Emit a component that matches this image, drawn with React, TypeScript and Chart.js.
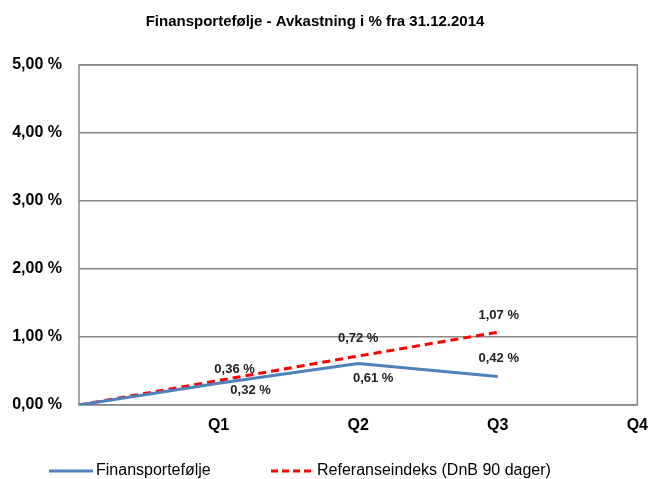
import React, { useEffect, useRef } from "react";
import { Chart, registerables } from "chart.js";

Chart.register(...registerables);

const chartTitle = "Finansportefølje - Avkastning i % fra 31.12.2014";
const categories = ["", "Q1", "Q2", "Q3", "Q4"];
const seriesNames = ["Finansportefølje", "Referanseindeks (DnB 90 dager)"];
const finansValues: (number | null)[] = [0, 0.32, 0.61, 0.42, null];
const referanseValues: (number | null)[] = [0, 0.36, 0.72, 1.07, null];
const yTickValues = [0, 1, 2, 3, 4, 5];

const BLUE = "#4F81BD";
const RED = "#FF0000";
const GRID = "#8a8a8a";
const FONT = "'Liberation Sans', Arial, sans-serif";

const fmt = (v: number) => v.toFixed(2).replace(".", ",") + " %";

// label offsets relative to each point (dataset index -> point index -> [dx, dy])
const labelOffsets: Record<number, Record<number, [number, number]>> = {
  0: { 1: [32, 7], 2: [15, 15], 3: [1, -18] },
  1: { 1: [16, -11], 2: [0, -18], 3: [1, -17] },
};

const decorPlugin = {
  id: "decor",
  beforeDatasetsDraw(chart: any) {
    const { ctx, chartArea } = chart;
    ctx.save();
    ctx.strokeStyle = GRID;
    ctx.lineWidth = 1.5;
    ctx.strokeRect(chartArea.left, chartArea.top, chartArea.right - chartArea.left, chartArea.bottom - chartArea.top);
    ctx.restore();
  },
  afterDatasetsDraw(chart: any) {
    const { ctx } = chart;
    ctx.save();
    ctx.font = `bold 13px ${FONT}`;
    ctx.fillStyle = "#222";
    ctx.textAlign = "center";
    ctx.textBaseline = "middle";
    chart.data.datasets.forEach((ds: any, di: number) => {
      const meta = chart.getDatasetMeta(di);
      meta.data.forEach((pt: any, i: number) => {
        const v = ds.data[i];
        const off = labelOffsets[di] && labelOffsets[di][i];
        if (v == null || !off) return;
        ctx.fillText(fmt(v), pt.x + off[0], pt.y + off[1]);
      });
    });
    ctx.restore();
  },
  afterDraw(chart: any) {
    const { ctx } = chart;
    ctx.save();
    // title
    ctx.font = `bold 15px ${FONT}`;
    ctx.fillStyle = "#000";
    ctx.textAlign = "center";
    ctx.textBaseline = "middle";
    ctx.fillText(chartTitle, 315, 22);
    // legend
    const ly = 471;
    ctx.font = `16px ${FONT}`;
    ctx.textAlign = "left";
    ctx.fillStyle = "#000";
    ctx.lineWidth = 3;
    ctx.strokeStyle = BLUE;
    ctx.setLineDash([]);
    ctx.beginPath();
    ctx.moveTo(49, ly);
    ctx.lineTo(93, ly);
    ctx.stroke();
    ctx.fillText(seriesNames[0], 96, ly);
    ctx.strokeStyle = RED;
    ctx.setLineDash([7, 4]);
    ctx.beginPath();
    ctx.moveTo(271, ly);
    ctx.lineTo(314, ly);
    ctx.stroke();
    ctx.setLineDash([]);
    ctx.fillText(seriesNames[1], 317, ly);
    ctx.restore();
  },
};

export default function App() {
  const ref = useRef<HTMLCanvasElement | null>(null);
  useEffect(() => {
    if (!ref.current) return;
    const chart = new Chart(ref.current, {
      type: "line",
      data: {
        labels: categories,
        datasets: [
          {
            label: seriesNames[0],
            data: finansValues,
            borderColor: BLUE,
            backgroundColor: BLUE,
            borderWidth: 3,
            pointRadius: 0,
            tension: 0,
            fill: false,
          },
          {
            label: seriesNames[1],
            data: referanseValues,
            borderColor: RED,
            backgroundColor: RED,
            borderWidth: 3,
            borderDash: [8, 5],
            pointRadius: 0,
            tension: 0,
            fill: false,
          },
        ],
      },
      options: {
        animation: false,
        responsive: false,
        maintainAspectRatio: false,
        layout: { padding: { top: 65, right: 0, left: 0, bottom: 0 } },
        plugins: {
          legend: { display: false },
          title: { display: false },
          tooltip: { enabled: false },
        },
        scales: {
          x: {
            type: "category",
            offset: false,
            grid: { display: false, drawTicks: true, tickLength: 11 },
            border: { display: false },
            ticks: {
              font: { family: FONT, size: 16, weight: "bold" },
              color: "#000",
              padding: 0,
              maxRotation: 0,
              autoSkip: false,
            },
            afterFit(scale: any) {
              scale.height = 74;
            },
          },
          y: {
            min: 0,
            max: 5,
            grid: { color: GRID, lineWidth: 1.5, drawTicks: false },
            border: { display: false },
            afterBuildTicks(scale: any) {
              scale.ticks = yTickValues.map((v) => ({ value: v }));
            },
            ticks: {
              font: { family: FONT, size: 16, weight: "bold" },
              color: "#000",
              padding: 17,
              callback: (v: any) => fmt(Number(v)),
            },
            afterFit(scale: any) {
              scale.width = 79;
            },
          },
        },
      },
      plugins: [decorPlugin],
    });
    return () => chart.destroy();
  }, []);
  return (
    <div style={{ position: "fixed", left: 0, top: 0, width: 648, height: 479, background: "#fff" }}>
      <canvas ref={ref} width={648} height={479} style={{ display: "block" }} />
    </div>
  );
}
